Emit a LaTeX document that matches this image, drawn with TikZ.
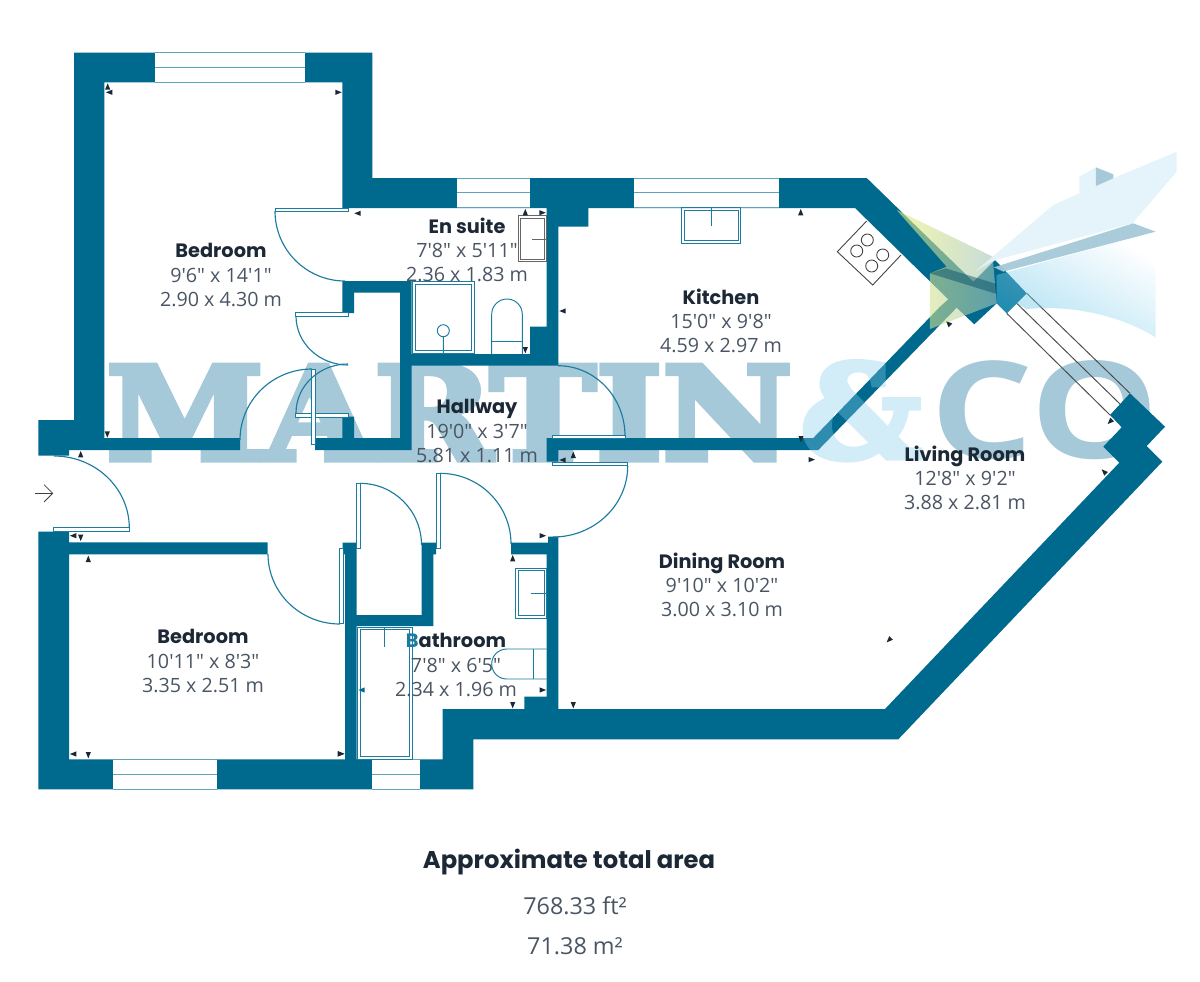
\documentclass[tikz,border=0pt]{standalone}
\usepackage{fontspec}
\usepackage{xcolor}
\usetikzlibrary{calc,arrows.meta}
\setmainfont{Open Sans}
\newfontfamily\dimfont{Open Sans}
\newfontfamily\titlefont{Poppins}
\newfontfamily\markserif[BoldFeatures={FakeBold=4.5}]{DejaVu Serif}
\definecolor{wallblue}{HTML}{00698E}
\definecolor{doorblue}{HTML}{1B7C9F}
\definecolor{winblue}{HTML}{62A3BC}
\definecolor{markblue}{HTML}{A5C9D8}
\definecolor{ampblue}{HTML}{82CBEC}
\definecolor{logoyellow}{HTML}{ECF07A}
\definecolor{logogrey}{HTML}{9FC4BE}
\definecolor{logocyan}{HTML}{4ABAE2}
\definecolor{logosail}{HTML}{E4F3FA}
\definecolor{titleink}{HTML}{1C2836}
\definecolor{dimink}{HTML}{4A5563}
\definecolor{tickink}{HTML}{1C2836}
\tikzset{
  wall/.style={fill=wallblue},
  winline/.style={draw=winblue, line width=0.55pt},
  doorline/.style={draw=doorblue, line width=0.65pt},
  leaf/.style={draw=doorblue, fill=white, line width=0.5pt},
  fixture/.style={draw=doorblue, line width=0.55pt},
  greyfix/.style={draw=black!60, line width=0.5pt},
  tickmark/.style={fill=tickink},
  roomtext/.style={align=center, text=dimink, inner sep=0pt,
    font=\dimfont\fontsize{11.2}{13.7}\selectfont},
}
\newcommand{\roomtitle}[1]{{\titlefont\bfseries\color{titleink}\fontsize{11}{15}\selectfont #1}}
\newcommand{\doorswing}[3]{
  \draw[doorline] #1 .. controls ($#1!0.5523!#2$) and ($#3!0.5523!#2$) .. #3;
}
\begin{document}
\begin{tikzpicture}[x=0.02cm, y=-0.02cm]
  \useasboundingbox (0,0) rectangle (1200,981);
  % watermark, under the walls
  \node[anchor=south west, inner sep=0pt, text=markblue] (markmartin) at (106,460)
    {\resizebox{13.72cm}{1.88cm}{\markserif\bfseries MARTIN}};
  \node[anchor=south west, inner sep=0pt, text=markblue] (markco) at (930,460)
    {\resizebox{4.58cm}{1.96cm}{\dimfont\bfseries CO}};

  % walls
  \fill[wall] (74,52.7) -- (372.3,52.7) -- (372.3,178) -- (866.7,178) -- (973.3,281.7)
    -- (995,260) -- (1026.7,293.3) -- (1006.7,313.3) -- (996.7,303.3) -- (974.3,324.3)
    -- (956.7,307.7) -- (818.3,450) -- (558.3,450) -- (558.3,461.7) -- (546.7,461.7)
    -- (546.7,438) -- (813.3,438) -- (940,306.7) -- (948.3,299.3) -- (855,208)
    -- (588.3,208) -- (588.3,226.7) -- (558.3,226.7) -- (558.3,365.7) -- (411.7,365.7)
    -- (411.7,450) -- (315,450) -- (315,438) -- (342.3,438) -- (342.3,416.7)
    -- (354,416.7) -- (354,438) -- (400,438) -- (400,292.7) -- (354,292.7)
    -- (354,313) -- (342.3,313) -- (342.3,281) -- (411.7,281) -- (411.7,354)
    -- (530,354) -- (530,326.7) -- (546.7,326.7) -- (546.7,208) -- (342.3,208)
    -- (342.3,82.3) -- (104.3,82.3) -- (104.3,438) -- (240,438) -- (240,450)
    -- (69,450) -- (69,455.7) -- (38.3,455.7) -- (38.3,420) -- (74,420) -- cycle;
  \fill[wall] (38.3,531.7) -- (69,531.7) -- (69,542.3) -- (267.7,542.3) -- (267.7,554.3)
    -- (69,554.3) -- (69,759.3) -- (345,759.3) -- (345,554.3) -- (342.7,554.3)
    -- (342.7,542.7) -- (356.7,542.7) -- (356.7,615) -- (421.7,615) -- (421.7,542.7)
    -- (436,542.7) -- (436,554.3) -- (433.3,554.3) -- (433.3,626) -- (356.7,626)
    -- (356.7,759.3) -- (442.7,759.3) -- (442.7,709) -- (524.3,709) -- (524.3,696.7)
    -- (546.7,696.7) -- (546.7,554.3) -- (511,554.3) -- (511,542.7) -- (548,542.7)
    -- (548,536.7) -- (558.3,536.7) -- (558.3,709) -- (885,709) -- (1119.3,462.7)
    -- (1103.3,446.7) -- (1121.7,427.3) -- (1110,415) -- (1130,393.3) -- (1165,426.7)
    -- (1146.7,446) -- (1162.3,461.7) -- (898.3,739.3) -- (473.3,739.3)
    -- (473.3,789.3) -- (38.3,789.3) -- cycle;

  % windows
  \foreach \xa/\ya/\xb/\yb in {155/52.7/305/82.3, 457.3/178/530/207.7, 634.3/178/779.3/207.7,
      113.3/759.3/216.7/789.3, 372.3/759.3/420/789.3} {
    \fill[white] (\xa,\ya) rectangle (\xb,\yb);
    \draw[winline] (\xa,\ya) -- (\xb,\ya) (\xa,\ya/2+\yb/2) -- (\xb,\ya/2+\yb/2) (\xa,\yb) -- (\xb,\yb);
  }
  \draw[fixture, draw=black!70] (1026.7,293.3) -- (1130,393.3) (1016.7,303.3) -- (1120,404) (1006.7,313.3) -- (1110,415);

  % doors
  \foreach \xa/\ya/\xb/\yb in {275/208.3/348.3/211, 295.7/312.7/348.3/316, 295.7/413.3/348.3/417,
      311.7/369/315/444, 552/435/625.7/438.3, 552.3/462.3/627.7/465.7, 53.3/527.7/129.3/531,
      339.3/548.3/343.3/623.3, 356.7/483.3/360.7/548.3, 436/473.3/440/548.3} {
    \draw[leaf] (\xa,\ya) rectangle (\xb,\yb);
  }
  \doorswing{(275,211)}{(275,281)}{(345,281)}
  \doorswing{(296,316)}{(296,365)}{(348,365)}
  \doorswing{(296,413)}{(296,364)}{(348,364)}
  \doorswing{(312,369)}{(240,369)}{(240,440)}
  \doorswing{(558,365.7)}{(625,365.7)}{(625,436)}
  \doorswing{(627.7,466)}{(627.7,537)}{(553,537)}
  \doorswing{(54,456)}{(129.3,456)}{(129.3,528)}
  \doorswing{(268,554)}{(268,624)}{(340,624)}
  \doorswing{(360,483.3)}{(421.5,483.3)}{(421.5,545)}
  \doorswing{(440,473.3)}{(511,473.3)}{(511,544)}

  % fixtures
  \foreach \xa/\ya/\xb/\yb in {412.7/281.7/474.3/353.3, 681.7/207.7/740.7/243.3,
      515.7/568.3/546.7/618.3, 357.7/627.3/412.3/759} {
    \draw[fixture] (\xa,\ya) rectangle (\xb,\yb) (\xa+2.5,\ya+2.5) rectangle (\xb-2.5,\yb-2.5);
  }
  \draw[greyfix] (518.3,215.7) rectangle (546,261.7) (520.7,218.5) rectangle (544,259);
  \draw[greyfix] (532.3,239) -- (546,239);
  \draw[fixture] (711,208) -- (711,225.7);
  \draw[fixture] (531,593) -- (546.7,593);
  \draw[fixture] (384.3,627.3) -- (384.3,647.3);
  \draw[fixture] (443.3,330.7) circle[radius=6] (443.3,336.7) -- (443.3,353.3);
  \draw[fixture] (491.7,354) -- (491.7,314.3) .. controls (491.7,305.9) and (498.5,299) .. (507,299)
    .. controls (515.5,299) and (522.3,305.9) .. (522.3,314.3) -- (522.3,354);
  \draw[fixture] (491.7,341.3) -- (522.3,341.3);
  \draw[fixture] (546.7,649) -- (507,649) .. controls (498,649) and (491.7,656) .. (491.7,664)
    .. controls (491.7,672) and (498,679) .. (507,679) -- (546.7,679);
  \draw[fixture] (533.3,649) -- (533.3,679);
  % hob
  \draw[greyfix, draw=black!75] (866.7,221) -- (837.3,251.7) -- (872.7,285) -- (901,255);
  \foreach \hx/\hy in {867.3/240, 856.7/251, 882.7/255, 871.7/266} {
    \draw[greyfix, draw=black!75] (\hx,\hy) circle[radius=6];
  }

  % small wall ticks
  \foreach \tx/\ty/\ta in {107.7/86.7/90, 109.3/92.3/180, 338.3/92.3/0, 357.7/213.3/180,
      107.3/434.3/270, 80.7/454.3/90, 73.3/535.7/180, 80.7/537.7/270, 88.3/559/90,
      73.3/754/180, 88.3/755/270, 340.7/754/0, 341/753.7/0, 562.7/460/180, 573.3/455/90,
      542.7/535.7/0, 512.7/558.3/90, 542.7/690/0, 512.7/705/270, 573.3/705/270,
      525.3/350/270, 525.3/212.3/90, 542.3/212.7/0, 562.7/311/180, 800.7/212.3/90,
      948.3/323.3/135, 1110/421.7/225, 1104/471.7/135, 801/439/270, 811.6/459.6/0,
      889/640/225} {
    \fill[tickmark, shift={(\tx,\ty)}, rotate=\ta] (-3,-2.6) -- (3.4,0) -- (-3,2.6) -- cycle;
  }
  \fill[wallblue, shift={(361.7,690)}, rotate=180] (-3,-2.6) -- (3.4,0) -- (-3,2.6) -- cycle;

  % entrance arrow
  \coordinate (enterfrom) at (35,493.3);
  \coordinate (enterto) at (53.3,493.3);
  \draw[black!75, line width=0.45pt, -{Straight Barb[length=8.7*0.569pt, width=17.4*0.569pt]}] (enterfrom) -- (enterto);

  % logo on top of the plan
  \begin{scope}[shift={(800,140)}, scale=0.3333]
    \shade[left color=logoyellow, right color=logogrey, fill opacity=0.6]
      (290,210) -- (578,350) -- (590,490) -- (390,567) -- (390,400) -- (440,380) -- cycle;
    \fill[wallblue!70!black, fill opacity=0.45] (390,400) -- (437,385) -- (590,432) -- (590,462) -- cycle;
    \shade[left color=logocyan, right color=white, shading angle=150, fill opacity=0.42]
      (590,405) -- (1067,275) -- (1067,592) .. controls (950,520) and (800,495) .. (680,507)
      -- (650,490) -- (620,520) -- (590,490) -- cycle;
    \fill[logosail, fill opacity=0.95] (525,395) -- (760,195) -- (838,160) -- (838,110) -- (888,82)
      -- (888,138) -- (940,115) -- (1130,35) -- (1130,95) -- (997,250) -- (580,362) -- cycle;
    \fill[markblue] (888,82) -- (940,103) -- (940,115) -- (888,138) -- cycle;
    \fill[markblue, fill opacity=0.95] (582,382) -- (1000,250) -- (1067,275) -- (610,395) -- cycle;
  \end{scope}
  \begin{scope}[transparency group, opacity=0.36]
    \node[anchor=south west, inner sep=0pt, text=ampblue] (markamp) at (800,460)
      {\resizebox{2.42cm}{1.92cm}{\markserif\bfseries\&}};
  \end{scope}

  % room labels
  \node[roomtext] (bedroomtop) at (221,275) {\roomtitle{Bedroom}\\9'6" x 14'1"\\2.90 x 4.30 m};
  \node[roomtext] (ensuite) at (467,250) {\roomtitle{En suite}\\7'8" x 5'11"\\2.36 x 1.83 m};
  \node[roomtext] (kitchen) at (721,321) {\roomtitle{Kitchen}\\15'0" x 9'8"\\4.59 x 2.97 m};
  \node[roomtext] (hallway) at (477,431) {\roomtitle{Hallway}\\19'0" x 3'7"\\5.81 x 1.11 m};
  \node[roomtext] (living) at (965,478) {\roomtitle{Living Room}\\12'8" x 9'2"\\3.88 x 2.81 m};
  \node[roomtext] (dining) at (722,585) {\roomtitle{Dining Room}\\9'10" x 10'2"\\3.00 x 3.10 m};
  \node[roomtext] (bedroomlow) at (203,661) {\roomtitle{Bedroom}\\10'11" x 8'3"\\3.35 x 2.51 m};
  \node[roomtext] (bathroom) at (456,665) {\roomtitle{\textcolor{doorblue}{B}athroom}\\7'8" x 6'5"\\2.34 x 1.96 m};

  % total area
  \node[inner sep=0pt, text=titleink, font=\titlefont\bfseries\fontsize{13.8}{16}\selectfont] (areatitle) at (569,862) {Approximate total area};
  \node[inner sep=0pt, text=dimink, font=\dimfont\fontsize{13.3}{16}\selectfont] (areaft) at (575,906) {768.33 ft²};
  \node[inner sep=0pt, text=dimink, font=\dimfont\fontsize{13.3}{16}\selectfont] (aream) at (575,946) {71.38 m²};
\end{tikzpicture}
\end{document}
